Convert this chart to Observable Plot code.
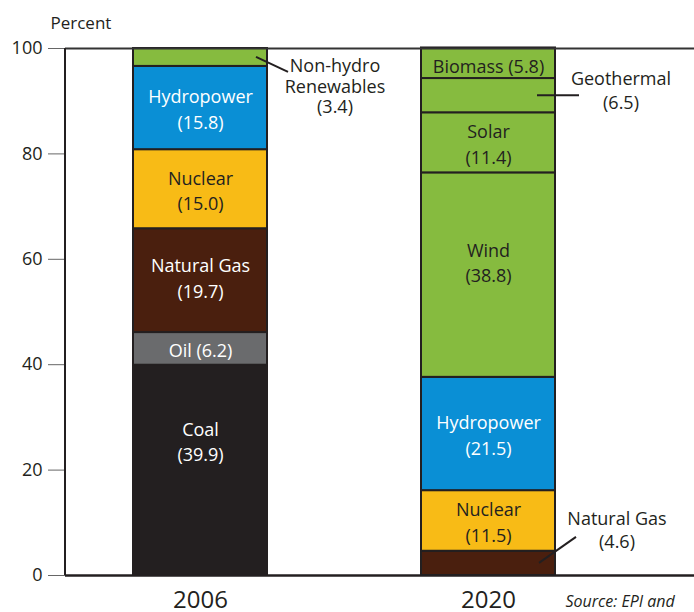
<!DOCTYPE html>
<html><head><meta charset="utf-8">
<script src="https://cdn.jsdelivr.net/npm/d3@7"></script>
<script src="https://cdn.jsdelivr.net/npm/@observablehq/plot@0.6"></script>
<style>body{margin:0;background:#fff} svg{display:block}</style>
</head><body><div id="chart"></div>
<script>
// ---- data ----
const years = ["2006", "2020"];
const sources2006 = ["Coal", "Oil", "Natural Gas", "Nuclear", "Hydropower", "Non-hydro Renewables"];
const values2006 = [39.9, 6.2, 19.7, 15.0, 15.8, 3.4];
const sources2020 = ["Natural Gas", "Nuclear", "Hydropower", "Wind", "Solar", "Geothermal", "Biomass"];
const values2020 = [4.6, 11.5, 21.5, 38.8, 11.4, 6.5, 5.8];
const yTicks = [0, 20, 40, 60, 80, 100];
const yLabel = "Percent";
const sourceNote = "Source: EPI and";

// ---- styling ----
const DARK = "#231f20";
const GREEN = "#86bb3f";
const palette = {
  "Coal": DARK, "Oil": "#6a6b6d", "Natural Gas": "#4a1f0e", "Nuclear": "#f8bb16",
  "Hydropower": "#0a8fd5", "Non-hydro Renewables": GREEN, "Wind": GREEN, "Solar": GREEN,
  "Geothermal": GREEN, "Biomass": GREEN
};
const whiteText = new Set(["Coal", "Oil", "Natural Gas", "Hydropower"]);
const oneLine = new Set(["Oil", "Biomass"]);
const calloutKeys = new Set(["2006|Non-hydro Renewables", "2020|Geothermal", "2020|Natural Gas"]);
const labelShift = {"2006|Coal": -30, "2020|Wind": -14, "2006|Natural Gas": -4, "2020|Biomass": 2};

const rows = [];
function addYear(year, sources, values) {
  let acc = 0;
  sources.forEach((s, i) => {
    const v = values[i];
    rows.push({year, source: s, value: v, y1: acc, y2: acc + v, mid: acc + v / 2, key: year + "|" + s});
    acc += v;
  });
}
addYear(years[0], sources2006, values2006);
addYear(years[1], sources2020, values2020);

const inside = rows.filter(d => !calloutKeys.has(d.key)).map(d => ({
  ...d,
  label: oneLine.has(d.source) ? `${d.source} (${d.value.toFixed(1)})` : `${d.source}\n(${d.value.toFixed(1)})`,
  shift: labelShift[d.key] || 0
}));
const shifts = [...new Set(inside.map(d => d.shift))];

const FONT = "'Open Sans', sans-serif";

// callout annotations (pixel offsets relative to bar & segment)
const calloutSpec = {
  "2006|Non-hydro Renewables": {lines: ["Non-hydro", "Renewables"], from: ["start", 123, 0], to: ["end", 21, 15], tx: 68, ty: 9, gap: 20.5},
  "2020|Geothermal": {lines: ["Geothermal"], from: ["start", 116, 0], to: ["end", 24, 0], tx: 66, ty: -16, gap: 24},
  "2020|Natural Gas": {lines: ["Natural Gas"], from: ["start", 118, 0], to: ["end", 21, -26], tx: 62, ty: -44, gap: 23}
};

function annotations(index, scales) {
  const x = scales.x, y = scales.y;
  const bw = typeof x.bandwidth === "function" ? x.bandwidth() : (x.bandwidth ?? 135);
  const g = d3.create("svg:g").attr("font-family", FONT).attr("font-size", 18).attr("fill", DARK);
  // left frame line
  g.append("line").attr("x1", 65).attr("x2", 65).attr("y1", y(100)).attr("y2", y(0))
    .attr("stroke", DARK).attr("stroke-width", 2);
  for (const d of rows) {
    const spec = calloutSpec[d.key];
    if (!spec) continue;
    const start = x(d.year), end = start + bw, ym = y(d.mid);
    const px = (p) => (p[0] === "start" ? start : end) + p[1];
    g.append("line").attr("x1", px(spec.from)).attr("y1", ym + spec.from[2])
      .attr("x2", px(spec.to)).attr("y2", ym + spec.to[2])
      .attr("stroke", DARK).attr("stroke-width", 2);
    const lines = [...spec.lines, `(${d.value.toFixed(1)})`];
    const t = g.append("text").attr("text-anchor", "middle");
    lines.forEach((s, i) => {
      t.append("tspan").attr("x", end + spec.tx).attr("y", ym + spec.ty + i * spec.gap)
        .attr("dy", "0.35em").text(s);
    });
  }
  return g.node();
}

const chart = Plot.plot({
  width: 694,
  height: 612,
  marginLeft: 65,
  marginRight: 0,
  marginTop: 48,
  marginBottom: 37,
  style: {fontFamily: FONT, fontSize: "18px", color: DARK, background: "#fff"},
  x: {domain: years, range: [65, 623], paddingInner: 0.533, paddingOuter: 0.232, align: 0.5, axis: null},
  y: {domain: [0, 100], axis: null},
  marks: [
    Plot.barY(rows, {x: "year", y1: "y1", y2: "y2", fill: d => palette[d.source], stroke: DARK, strokeWidth: 2}),
    ...shifts.map(s => Plot.text(inside.filter(d => d.shift === s), {
      x: "year", y: "mid", text: "label", dy: s, lineAnchor: "middle", lineHeight: 1.42,
      fill: d => whiteText.has(d.source) ? "#ffffff" : DARK, fontSize: 18
    })),
    Plot.ruleY([100], {stroke: "#333", strokeWidth: 2}),
    Plot.ruleY([0], {stroke: DARK, strokeWidth: 2.5}),
    Plot.axisY({ticks: yTicks, tickSize: 17, tickPadding: 6, fontSize: 18, label: null, stroke: "#666", fill: DARK}),
    Plot.axisX({tickSize: 0, tickPadding: 15, fontSize: 24, label: null, fill: DARK}),
    Plot.text([yLabel], {frameAnchor: "top-left", dx: -15, dy: -25, lineAnchor: "middle", textAnchor: "start", fontSize: 17, fill: DARK}),
    Plot.text([sourceNote], {frameAnchor: "bottom-right", dx: -129, dy: 26, lineAnchor: "middle", textAnchor: "start", fontSize: 16, fontStyle: "italic", fill: DARK}),
    annotations
  ]
});
document.getElementById("chart").appendChild(chart);
</script>
</body></html>
